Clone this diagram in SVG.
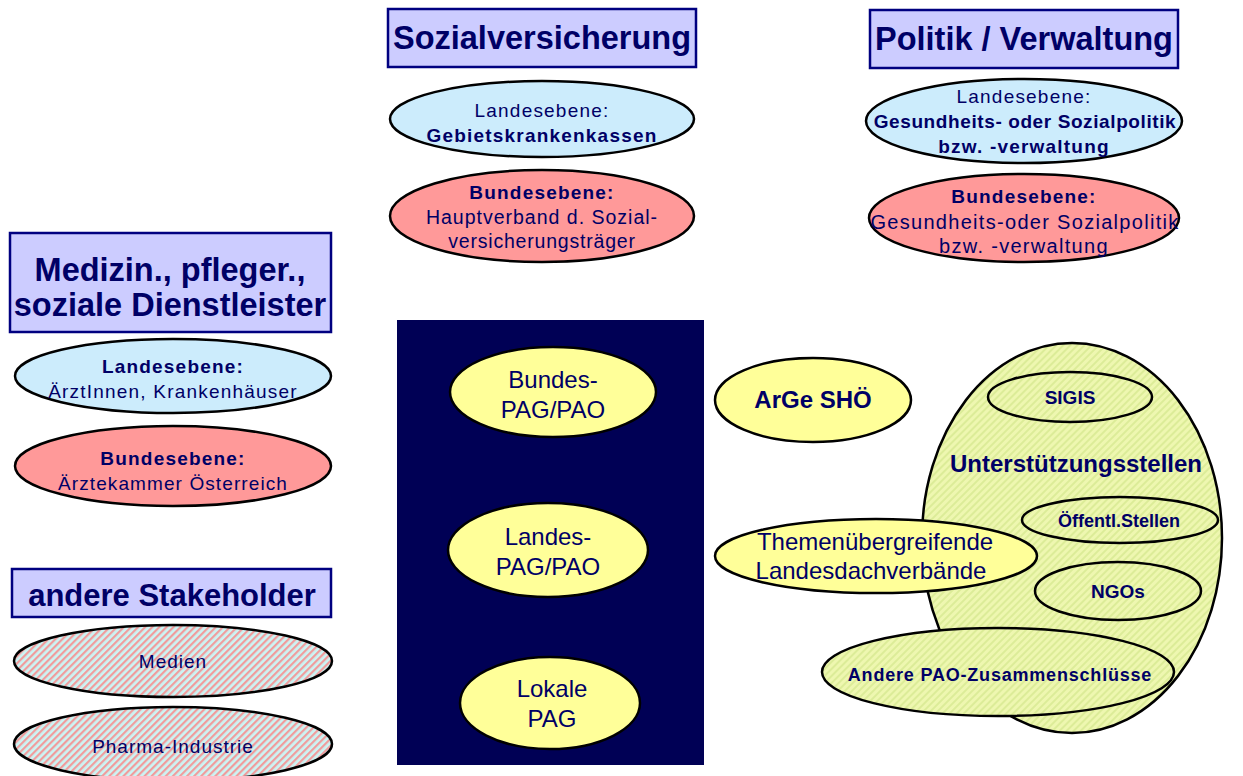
<svg xmlns="http://www.w3.org/2000/svg" width="1243" height="776" viewBox="0 0 1243 776">
<defs>
<pattern id="hatchRed" patternUnits="userSpaceOnUse" width="5" height="5" patternTransform="rotate(45)">
<rect width="5" height="5" fill="#ccf4f4"/>
<rect width="2.2" height="5" fill="#f09c9c"/>
</pattern>
<pattern id="hatchGreen" patternUnits="userSpaceOnUse" width="5" height="5" patternTransform="rotate(45)">
<rect width="5" height="5" fill="#eef7b0"/>
<rect width="2" height="5" fill="#dcec98"/>
</pattern>
<style>
.hdr{fill:#ccccff;stroke:#000080;stroke-width:2.5}
.ht{font-family:"Liberation Sans",Arial,sans-serif;font-weight:bold;fill:#000066;text-anchor:middle}
.el{stroke:#000;stroke-width:2.5}
.blue{fill:#ccecfc}
.red{fill:#ff9999}
.yel{fill:#ffff99}
.t{font-family:"Liberation Sans",Arial,sans-serif;fill:#000066;text-anchor:middle}
.b{font-weight:bold}
</style>
</defs>
<rect width="1243" height="776" fill="#ffffff"/>

<g id="sozialversicherung">
<rect class="hdr" x="388" y="9" width="308" height="58"/>
<text class="ht" x="542" y="49" font-size="32.5">Sozialversicherung</text>
</g>
<g id="sv-landesebene">
<ellipse class="el blue" cx="542" cy="119" rx="152" ry="38"/>
<text class="t" x="542" y="117" font-size="19" letter-spacing="1.2">Landesebene:</text>
<text class="t b" x="542" y="142" font-size="19" letter-spacing="1.2">Gebietskrankenkassen</text>
</g>
<g id="sv-bundesebene">
<ellipse class="el red" cx="542" cy="216" rx="152" ry="46"/>
<text class="t b" x="542" y="199" font-size="19" letter-spacing="1.2">Bundesebene:</text>
<text class="t" x="542" y="224" font-size="19.5" letter-spacing="1">Hauptverband d. Sozial-</text>
<text class="t" x="542" y="248" font-size="19.5" letter-spacing="0.8">versicherungsträger</text>
</g>

<g id="politik">
<rect class="hdr" x="870" y="10" width="308" height="58"/>
<text class="ht" x="1024" y="50" font-size="32.5">Politik / Verwaltung</text>
</g>
<g id="pol-landesebene">
<ellipse class="el blue" cx="1024" cy="121" rx="158" ry="42"/>
<text class="t" x="1024" y="103" font-size="19" letter-spacing="1.2">Landesebene:</text>
<text class="t b" x="1025" y="128" font-size="19" letter-spacing="0.6">Gesundheits- oder Sozialpolitik</text>
<text class="t b" x="1024" y="153" font-size="19" letter-spacing="1.2">bzw. -verwaltung</text>
</g>
<g id="pol-bundesebene">
<ellipse class="el red" cx="1024" cy="218" rx="155" ry="44"/>
<text class="t b" x="1024" y="203" font-size="19" letter-spacing="1.2">Bundesebene:</text>
<text class="t" x="1025" y="229" font-size="20" letter-spacing="1.3">Gesundheits-oder Sozialpolitik</text>
<text class="t" x="1024" y="253" font-size="20" letter-spacing="1.3">bzw. -verwaltung</text>
</g>

<g id="medizin">
<rect class="hdr" x="10" y="233" width="321" height="99"/>
<text class="ht" x="170" y="281" font-size="32.5">Medizin., pfleger.,</text>
<text class="ht" x="170" y="316" font-size="32.5">soziale Dienstleister</text>
</g>
<g id="med-landesebene">
<ellipse class="el blue" cx="173" cy="376" rx="158" ry="37"/>
<text class="t b" x="173" y="373" font-size="19" letter-spacing="1.2">Landesebene:</text>
<text class="t" x="173" y="398" font-size="19" letter-spacing="1.2">ÄrztInnen, Krankenhäuser</text>
</g>
<g id="med-bundesebene">
<ellipse class="el red" cx="173" cy="466" rx="158" ry="40"/>
<text class="t b" x="173" y="465" font-size="19" letter-spacing="1.2">Bundesebene:</text>
<text class="t" x="173" y="490" font-size="19" letter-spacing="1.1">Ärztekammer Österreich</text>
</g>

<g id="stakeholder">
<rect class="hdr" x="12" y="569" width="319" height="48"/>
<text class="ht" x="172" y="606" font-size="31">andere Stakeholder</text>
</g>
<g id="medien">
<ellipse class="el" fill="url(#hatchRed)" cx="173" cy="661" rx="159" ry="36"/>
<text class="t" x="173" y="668" font-size="19" letter-spacing="1">Medien</text>
</g>
<g id="pharma">
<ellipse class="el" fill="url(#hatchRed)" cx="173" cy="744" rx="159" ry="37"/>
<text class="t" x="173" y="753" font-size="19" letter-spacing="1">Pharma-Industrie</text>
</g>

<g id="pag-block">
<rect x="397" y="320" width="307" height="445" fill="#000055"/>
</g>
<g id="bundes-pag">
<ellipse class="el yel" cx="553" cy="392" rx="103" ry="45"/>
<text class="t" x="553" y="388" font-size="24">Bundes-</text>
<text class="t" x="553" y="418" font-size="24">PAG/PAO</text>
</g>
<g id="landes-pag">
<ellipse class="el yel" cx="548" cy="550" rx="100" ry="47"/>
<text class="t" x="548" y="545" font-size="24">Landes-</text>
<text class="t" x="548" y="575" font-size="24">PAG/PAO</text>
</g>
<g id="lokale-pag">
<ellipse class="el yel" cx="550" cy="703" rx="90" ry="46"/>
<text class="t" x="552" y="697" font-size="24">Lokale</text>
<text class="t" x="552" y="727" font-size="24">PAG</text>
</g>

<g id="arge-sho">
<ellipse class="el yel" cx="813" cy="400" rx="98" ry="42"/>
<text class="t b" x="813" y="408" font-size="24">ArGe SHÖ</text>
</g>

<g id="unterstuetzungsstellen">
<ellipse class="el" fill="url(#hatchGreen)" cx="1072" cy="538" rx="150" ry="195"/>
<text class="t b" x="1076" y="472" font-size="24">Unterstützungsstellen</text>
</g>
<g id="sigis">
<ellipse class="el" fill="url(#hatchGreen)" cx="1070" cy="397" rx="82" ry="25"/>
<text class="t b" x="1070" y="404" font-size="19">SIGIS</text>
</g>
<g id="oeffentl">
<ellipse class="el" fill="url(#hatchGreen)" cx="1120" cy="520" rx="98" ry="23"/>
<text class="t b" x="1119" y="527" font-size="18">Öffentl.Stellen</text>
</g>
<g id="ngos">
<ellipse class="el" fill="url(#hatchGreen)" cx="1118" cy="591" rx="83" ry="29"/>
<text class="t b" x="1118" y="598" font-size="19">NGOs</text>
</g>
<g id="themen">
<ellipse class="el yel" cx="876" cy="556" rx="161" ry="37"/>
<text class="t" x="875" y="550" font-size="24">Themenübergreifende</text>
<text class="t" x="871" y="579" font-size="24">Landesdachverbände</text>
</g>
<g id="andere-pao">
<ellipse class="el" fill="url(#hatchGreen)" cx="998" cy="672" rx="176" ry="44"/>
<text class="t b" x="1000" y="681" font-size="18" letter-spacing="0.8">Andere PAO-Zusammenschlüsse</text>
</g>

<g id="connectors"></g>
</svg>
